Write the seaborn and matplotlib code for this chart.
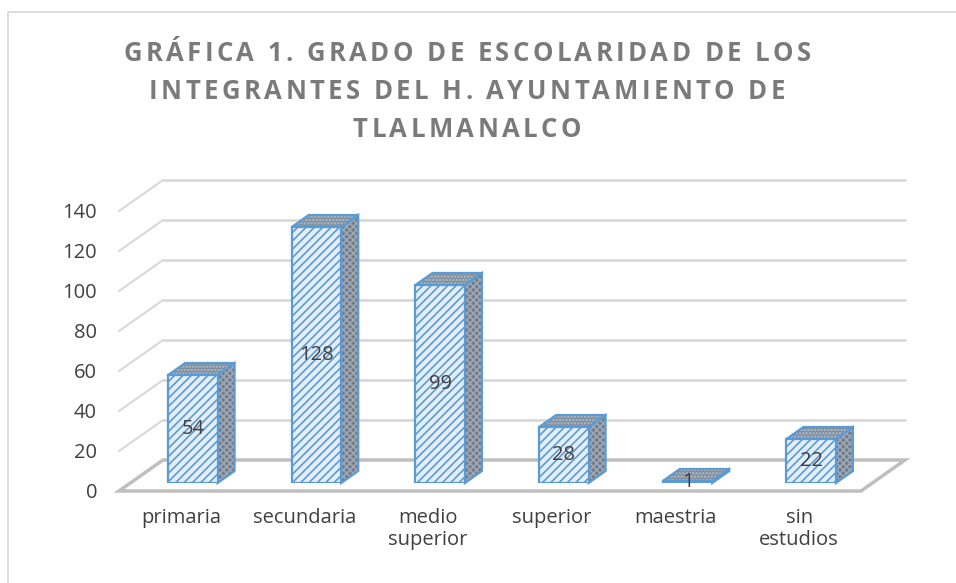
import matplotlib
matplotlib.use('Agg')
import matplotlib.pyplot as plt
import seaborn as sns
from matplotlib.patches import Polygon, Rectangle
from matplotlib.transforms import ScaledTranslation

# datos de la gráfica
categorias = ['primaria', 'secundaria', 'medio\nsuperior', 'superior', 'maestria', 'sin\nestudios']
valores = [54, 128, 99, 28, 1, 22]
ticks_y = [0, 20, 40, 60, 80, 100, 120, 140]
titulo = ['GRÁFICA 1. GRADO DE ESCOLARIDAD DE LOS',
          'INTEGRANTES DEL H. AYUNTAMIENTO DE',
          'TLALMANALCO']

sns.set_style('white')
plt.rcParams['font.family'] = ['Open Sans', 'DejaVu Sans']
plt.rcParams['hatch.linewidth'] = 1.2

W, H = 956, 583
fig = plt.figure(figsize=(W / 100, H / 100), dpi=100)
# el eje corresponde al plano donde están las barras
ax = fig.add_axes([131 / W, (H - 483) / H, 742 / W, 300 / H])
ax.set_facecolor('none')

azul = '#5B9BD5'
gris_rejilla = '#D9D9D9'
gris_piso = '#BFBFBF'
texto = '#404040'

sns.barplot(x=categorias, y=valores, width=0.4, color='#E3EEF9', edgecolor=azul,
            linewidth=1.6, hatch='////', saturation=1, ax=ax, zorder=5)
ax.set_xlim(-0.5, 5.5)
ax.set_ylim(0, 150)
ax.set_yticks(ticks_y)
ax.set_xlabel('')
ax.set_ylabel('')
sns.despine(ax=ax, left=True, bottom=True)


def mover(x, y, dx, dy):
    """desplaza un punto de datos dx, dy pixeles"""
    px, py = ax.transData.transform((x, y))
    return tuple(ax.transData.inverted().transform((px + dx, py + dy)))


FRENTE = (-12, -8)
FONDO = (32, 23)
PROF = (17, 12)

# rejilla en la pared del fondo y diagonales en la pared izquierda
for v in ticks_y[1:]:
    a = mover(-0.5, v, *FONDO)
    b = mover(5.5, v, *FONDO)
    ax.plot([a[0], b[0]], [a[1], b[1]], color=gris_rejilla, lw=2, clip_on=False, zorder=0)
    c = mover(-0.5, v, *FRENTE)
    ax.plot([c[0], a[0]], [c[1], a[1]], color=gris_rejilla, lw=1.5, clip_on=False, zorder=0)

# piso
piso = [mover(-0.5, 0, *FRENTE), mover(5.5, 0, *FRENTE), mover(5.5, 0, *FONDO), mover(-0.5, 0, *FONDO)]
ax.add_patch(Polygon(piso, closed=True, fill=False, edgecolor=gris_piso, lw=2.5,
                     clip_on=False, zorder=1, joinstyle='miter'))

# caras laterales y superiores de las barras
for p in ax.patches[:len(valores)]:
    x0, w, h = p.get_x(), p.get_width(), p.get_height()
    lado = [(x0 + w, 0), (x0 + w, h), mover(x0 + w, h, *PROF), mover(x0 + w, 0, *PROF)]
    tapa = [(x0, h), (x0 + w, h), mover(x0 + w, h, *PROF), mover(x0, h, *PROF)]
    ax.add_patch(Polygon(lado, closed=True, facecolor='#737B86', edgecolor='#9DA8B6',
                         hatch='xxxxx', lw=0, clip_on=False, zorder=4))
    ax.add_patch(Polygon(lado, closed=True, fill=False, edgecolor=azul, lw=1.6,
                         clip_on=False, zorder=4))
    ax.add_patch(Polygon(tapa, closed=True, facecolor='#7F8C9B', edgecolor='#B3C0CE',
                         hatch='.....', lw=0, clip_on=False, zorder=4))
    ax.add_patch(Polygon(tapa, closed=True, fill=False, edgecolor=azul, lw=1.6,
                         clip_on=False, zorder=4))

ax.bar_label(ax.containers[0], labels=[str(v) for v in valores], label_type='center',
             fontsize=14.5, color=texto, zorder=6)

# etiquetas de los ejes en el plano frontal
ax.tick_params(axis='y', length=0, pad=15.8, labelsize=14.5, labelcolor=texto)
ax.tick_params(axis='x', length=0, pad=12.2, labelsize=14.5, labelcolor=texto)
desp = ScaledTranslation(FRENTE[0] / 100, FRENTE[1] / 100, fig.dpi_scale_trans)
for lbl in ax.get_yticklabels() + ax.get_xticklabels():
    lbl.set_transform(lbl.get_transform() + desp)
for lbl in ax.get_xticklabels():
    lbl.set_linespacing(1.15)

# marco del gráfico
fig.patches.append(Rectangle((8 / W, -0.1), 1.2, 1 - 12 / H + 0.1, transform=fig.transFigure,
                             fill=False, edgecolor=gris_rejilla, lw=1.3))

# título con espaciado entre letras
r = fig.canvas.get_renderer()
estilo = dict(fontsize=18.5, fontweight='bold', color='#7A7A7A')


def ancho(s):
    t = fig.text(0, 0, s, **estilo)
    a = t.get_window_extent(r).width
    t.remove()
    return a


def titulo_espaciado(s, xc, y, track):
    anchos = [ancho('x x') - ancho('xx') if ch == ' ' else ancho(ch) for ch in s]
    total = sum(anchos) + track * (len(s) - 1)
    x = xc - total / 2
    for ch, a in zip(s, anchos):
        if ch != ' ':
            fig.text(x / W, 1 - y / H, ch, ha='left', va='baseline', **estilo)
        x += a + track


for linea, yb in zip(titulo, [61, 99, 137]):
    titulo_espaciado(linea, 467, yb, 3.4)

fig.savefig('out.png', dpi=100)
